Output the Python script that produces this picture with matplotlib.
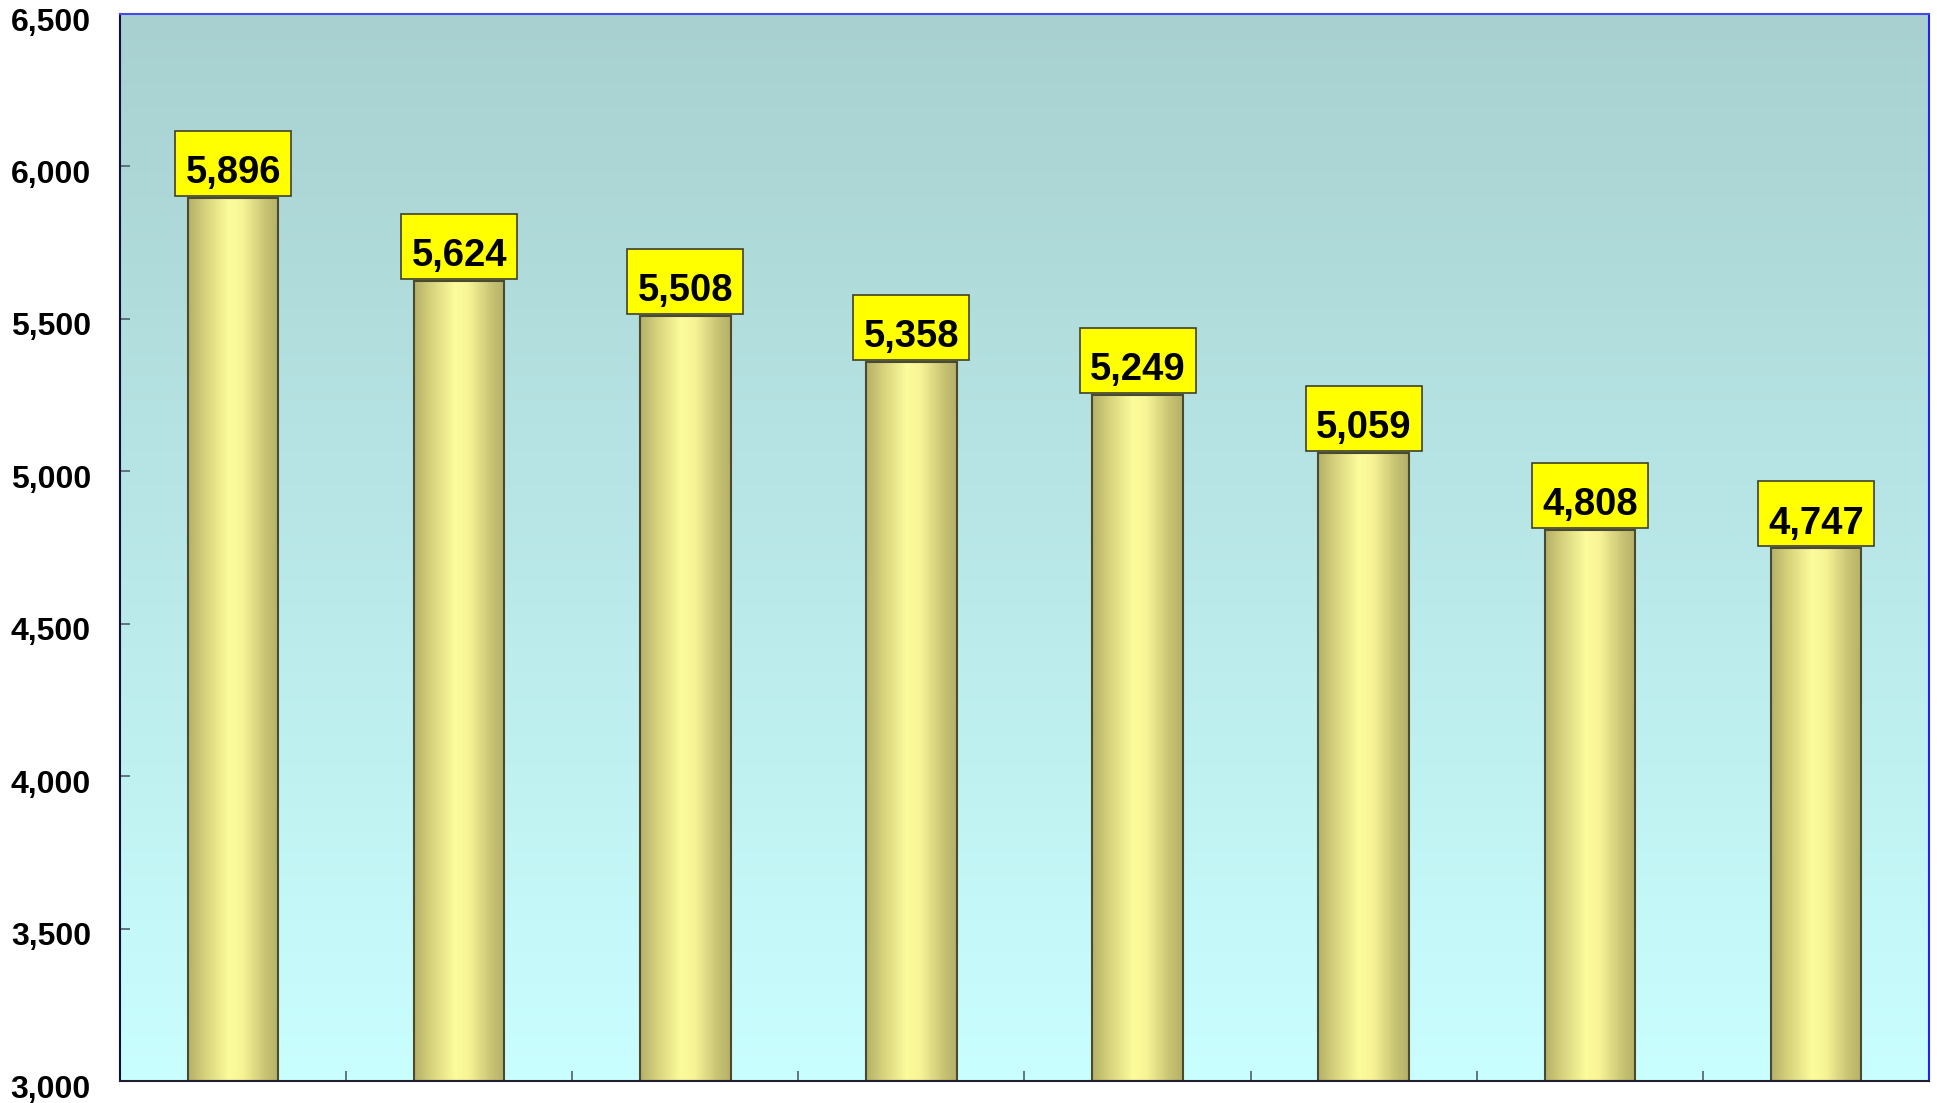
import numpy as np
import matplotlib
matplotlib.use("Agg")
import matplotlib.pyplot as plt
import matplotlib.transforms as mtransforms
from matplotlib.colors import LinearSegmentedColormap
from matplotlib.patches import Rectangle
from matplotlib.ticker import FuncFormatter, FixedLocator

# data
values = [5896, 5624, 5508, 5358, 5249, 5059, 4808, 4747]
y_ticks = [3000, 3500, 4000, 4500, 5000, 5500, 6000, 6500]
y_min, y_max = 3000, 6500

plt.rcParams['font.family'] = ['Liberation Sans', 'DejaVu Sans']

fig = plt.figure(figsize=(19.37, 11.03), dpi=100)
ax = fig.add_axes([0.062, 0.0199, 0.9338, 0.9674])

x = np.arange(len(values))
ax.set_xlim(-0.5, len(values) - 0.5)
ax.set_ylim(y_min, y_max)

# background: vertical gradient
bg = LinearSegmentedColormap.from_list('bg', ['#caffff', '#a8d0d0'])
grad = np.linspace(0, 1, 256).reshape(-1, 1)
ax.imshow(grad, cmap=bg, aspect='auto', origin='lower',
          extent=(-0.5, len(values) - 0.5, y_min, y_max), zorder=0)

# bars with horizontal "cylinder" shading
bar_cm = LinearSegmentedColormap.from_list(
    'bar', [(0, '#b4b068'), (0.2, '#d8d47e'), (0.45, '#fcfc9c'),
            (0.6, '#f8f496'), (0.85, '#c8c474'), (1, '#b4b068')])
hgrad = np.linspace(0, 1, 256).reshape(1, -1)
bars = ax.bar(x, np.array(values) - y_min, bottom=y_min, width=0.4,
              facecolor='none', edgecolor='#4a4a30', linewidth=1.5, zorder=3)
for b in bars:
    x0, y0 = b.get_x(), b.get_y()
    im = ax.imshow(hgrad, cmap=bar_cm, aspect='auto',
                   extent=(x0, x0 + b.get_width(), y0, y0 + b.get_height()),
                   zorder=2)
    im.set_clip_path(b)

# value labels in yellow boxes
box_w, box_h, gap = 0.513, 213, 7
for xi, v in zip(x, values):
    ax.add_patch(Rectangle((xi - box_w / 2, v + gap), box_w, box_h,
                           facecolor='#ffff00', edgecolor='#404028',
                           linewidth=1.2, zorder=4))
    ax.text(xi, v + gap + 42, f"{v:,}", ha='center', va='baseline',
            fontsize=27.5, fontweight='bold', color='black', zorder=5)

# axes styling
ax.yaxis.set_major_locator(FixedLocator(y_ticks))
ax.yaxis.set_major_formatter(FuncFormatter(lambda v, p: f"{int(v):,}"))
ax.set_xticks(np.arange(-0.5, len(values)))
ax.set_xticklabels([])
ax.tick_params(axis='y', direction='in', length=7.5, width=1.2,
               color='#506068', labelsize=23, pad=21)
ax.tick_params(axis='x', direction='in', length=7.5, width=1.2,
               color='#506068')
shift = mtransforms.ScaledTranslation(0, -5 / 100, fig.dpi_scale_trans)
for lab in ax.get_yticklabels():
    lab.set_fontweight('bold')
    lab.set_transform(lab.get_transform() + shift)

ax.spines['top'].set_color('#4848e8')
ax.spines['right'].set_color('#2020ff')
ax.spines['left'].set_color('#101040')
ax.spines['bottom'].set_color('#202030')
for s in ax.spines.values():
    s.set_linewidth(1.5)
    s.set_zorder(6)

fig.savefig('out.png', dpi=100)
